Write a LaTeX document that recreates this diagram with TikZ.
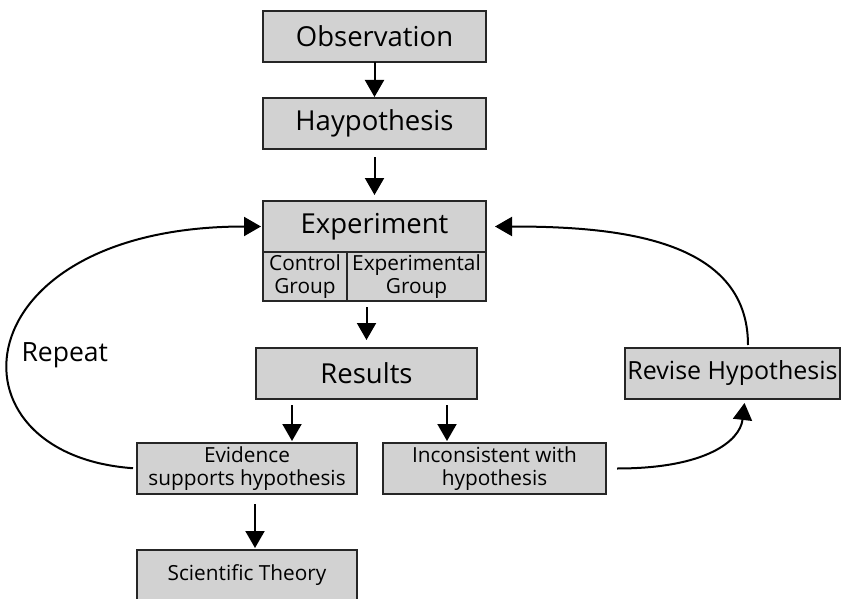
\documentclass[tikz,border=0pt]{standalone}
\usepackage{fontspec}
\setmainfont{Open Sans}
\definecolor{boxgray}{RGB}{210,210,210}
\usetikzlibrary{positioning,arrows.meta}
\tikzset{
  box/.style={draw=black!85, fill=boxgray, line width=1.2pt, outer sep=0pt, inner sep=0pt,
    minimum width=223pt, minimum height=51pt, align=center, font=\fontsize{27.5}{30}\selectfont},
  small/.style={font=\fontsize{20.8}{23}\selectfont},
  flow/.style={-{Triangle[length=17pt,width=19pt]}, line width=2pt},
}

\begin{document}
\begin{tikzpicture}[x=1pt,y=-1pt]
  \useasboundingbox (0,0) rectangle (843,599);

  \node [box] (obs) at (374.5,36.5) {Observation};
  \node [box, below=36pt of obs] (hyp) {Haypothesis};
  \node [box, below=52pt of hyp] (exp) {Experiment};
  \node [box, small, minimum width=84pt, minimum height=49pt, below right=0pt and 0pt of exp.south west] (ctrl) {Control\\Group};
  \node [box, small, minimum width=139pt, minimum height=49pt, right=0pt of ctrl] (expgrp) {Experimental\\Group};

  \node [box, minimum width=221pt, below=47pt of ctrl.south east, xshift=19.5pt] (res) {Results};
  \node [box, small, minimum width=220pt, below=44pt of res, xshift=-119.5pt] (evid) {Evidence\\supports hypothesis};
  \node [box, small, right=26pt of evid] (incon) {Inconsistent with\\hypothesis};
  \node [box, small, minimum width=220pt, below=56pt of evid] (theory) {Scientific Theory};
  \node [box, minimum width=215pt, font=\fontsize{25}{28}\selectfont, right=148pt of res] (rev) {Revise Hypothesis};

  \node [font=\fontsize{26.5}{29}\selectfont, anchor=west] (rep) at (18,355) {Repeat};

  \draw [flow, shorten >=1pt] (obs) -- (hyp);
  \draw [flow, shorten <=8pt, shorten >=6pt] (hyp) -- (exp);
  \draw [flow, shorten <=6pt, shorten >=8pt] (ctrl.south -| res.north) -- (res.north);
  \draw [flow, shorten <=6pt, shorten >=2pt] ([xshift=45pt]evid.north |- res.south) -- ([xshift=45pt]evid.north);
  \draw [flow, shorten <=6pt, shorten >=2pt] ([xshift=-47.5pt]incon.north |- res.south) -- ([xshift=-47.5pt]incon.north);
  \draw [flow, shorten <=10pt, shorten >=2pt] ([xshift=8pt]evid.south) -- ([xshift=8pt]theory.north);

  % loops back to the experiment
  \draw [flow, shorten <=4pt, shorten >=2pt] (evid.west) .. controls +(-197,-14) and +(-303,0) .. (exp.west);
  \draw [flow, shorten <=3pt, shorten >=9pt] ([xshift=15.5pt]rev.north) .. controls +(0,-110) and +(130,0) .. (exp.east);
  \draw [flow, shorten <=11pt, shorten >=4pt] (incon.east) .. controls +(100,0) and +(-5,42) .. ([xshift=12.5pt]rev.south);
\end{tikzpicture}
\end{document}
